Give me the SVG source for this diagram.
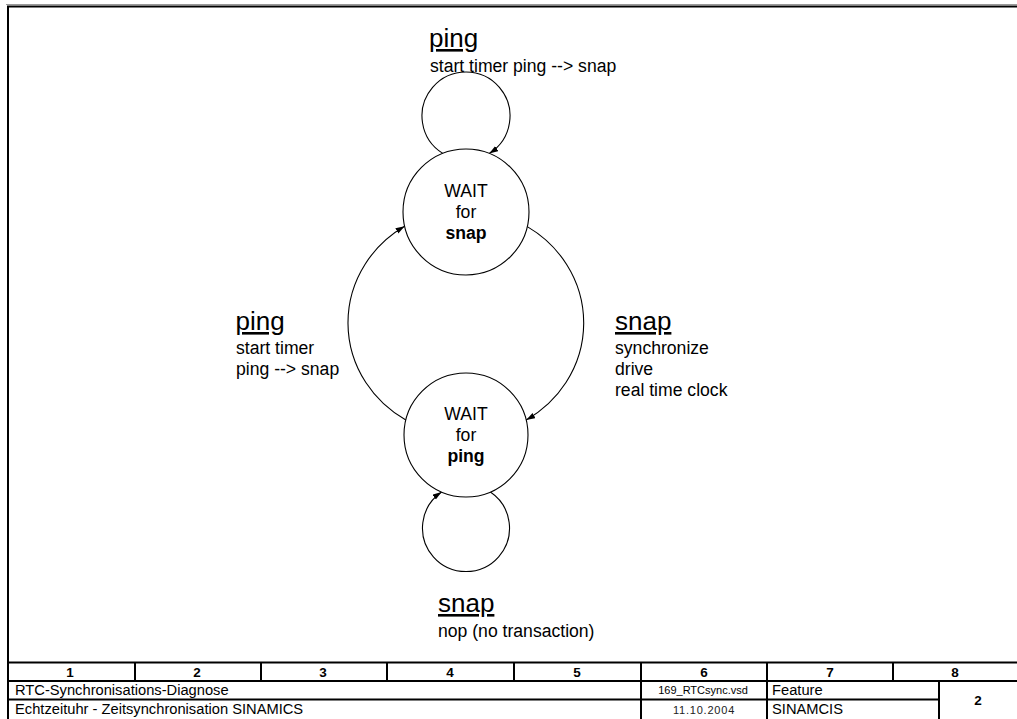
<svg xmlns="http://www.w3.org/2000/svg" width="1017" height="719" viewBox="0 0 1017 719">
<style>
text{font-family:"Liberation Sans",Arial,sans-serif;fill:#000}
.big{font-size:26px;text-decoration:underline}
.t{font-size:17.6px}
.c{text-anchor:middle}
.b{font-weight:bold}
.st{fill:#fff;stroke:#000;stroke-width:1.1}
.con{fill:none;stroke:#000;stroke-width:1.1}
.fr{stroke:#000;stroke-width:2;fill:none}
.tb{font-size:14.7px}
.num{font-size:13.5px;text-anchor:middle;font-weight:bold}
.sm{font-size:11px;text-anchor:middle}
</style>
<defs>
<marker id="ah" markerUnits="userSpaceOnUse" markerWidth="10" markerHeight="7" refX="9" refY="3" orient="auto">
<path d="M0,0 L9,3 L0,6 z" fill="#000"/>
</marker>
</defs>
<rect x="0" y="0" width="1017" height="719" fill="#fff"/>
<g id="frame">
<line x1="6" y1="4.5" x2="1017" y2="4.5" stroke="#999" stroke-width="1"/>
<line class="fr" x1="7" y1="6.5" x2="1017" y2="6.5"/>
<line class="fr" x1="8" y1="6" x2="8" y2="719"/>
</g>
<g id="connectors">
<path class="con" d="M442.8,153.4 A44,44 0 1 1 489.2,153.4" marker-end="url(#ah)"/>
<path class="con" d="M490.4,492 A43.5,43.5 0 1 1 441.6,492" marker-end="url(#ah)"/>
<path class="con" d="M405.8,420 A118,113 0 0 1 404.6,226.3" marker-end="url(#ah)"/>
<path class="con" d="M527.3,226.6 A118,113 0 0 1 526.2,420" marker-end="url(#ah)"/>
</g>
<g id="state-wait-snap">
<circle class="st" cx="466" cy="212" r="63"/>
<text class="t c" x="466" y="197">WAIT</text>
<text class="t c" x="466" y="218">for</text>
<text class="t c b" x="466" y="239">snap</text>
</g>
<g id="state-wait-ping">
<circle class="st" cx="466" cy="435" r="62"/>
<text class="t c" x="466" y="420">WAIT</text>
<text class="t c" x="466" y="441">for</text>
<text class="t c b" x="466" y="462">ping</text>
</g>
<g id="label-top">
<text class="big" x="429" y="47">ping</text>
<text class="t" x="430" y="72">start timer ping --&gt; snap</text>
</g>
<g id="label-left">
<text class="big" x="235.5" y="330">ping</text>
<text class="t" x="236" y="354">start timer</text>
<text class="t" x="236" y="375">ping --&gt; snap</text>
</g>
<g id="label-right">
<text class="big" x="615" y="330">snap</text>
<text class="t" x="615" y="354">synchronize</text>
<text class="t" x="615" y="375">drive</text>
<text class="t" x="615" y="396">real time clock</text>
</g>
<g id="label-bottom">
<text class="big" x="438" y="612">snap</text>
<text class="t" x="438" y="637">nop (no transaction)</text>
</g>
<g id="title-block">
<line class="fr" x1="7" y1="662.5" x2="1017" y2="662.5"/>
<line class="fr" x1="7" y1="681" x2="1017" y2="681"/>
<line class="fr" x1="7" y1="699.5" x2="939" y2="699.5"/>
<line class="fr" x1="135" y1="662" x2="135" y2="681"/>
<line class="fr" x1="261" y1="662" x2="261" y2="681"/>
<line class="fr" x1="387" y1="662" x2="387" y2="681"/>
<line class="fr" x1="514" y1="662" x2="514" y2="681"/>
<line class="fr" x1="641" y1="662" x2="641" y2="719"/>
<line class="fr" x1="767" y1="662" x2="767" y2="719"/>
<line class="fr" x1="893" y1="662" x2="893" y2="681"/>
<line class="fr" x1="939" y1="681" x2="939" y2="719"/>
<text class="num" x="70" y="677">1</text>
<text class="num" x="197" y="677">2</text>
<text class="num" x="323" y="677">3</text>
<text class="num" x="450" y="677">4</text>
<text class="num" x="577" y="677">5</text>
<text class="num" x="704" y="677">6</text>
<text class="num" x="830" y="677">7</text>
<text class="num" x="955" y="677">8</text>
<text class="tb" x="15" y="695">RTC-Synchronisations-Diagnose</text>
<text class="tb" x="15" y="714">Echtzeituhr - Zeitsynchronisation SINAMICS</text>
<text class="sm" x="703" y="694">169_RTCsync.vsd</text>
<text class="sm" x="704" y="714" style="letter-spacing:0.8px;fill:#222">11.10.2004</text>
<text class="tb" x="772" y="695">Feature</text>
<text class="tb" x="772" y="714">SINAMCIS</text>
<text class="num" x="978" y="705">2</text>
</g>
</svg>
